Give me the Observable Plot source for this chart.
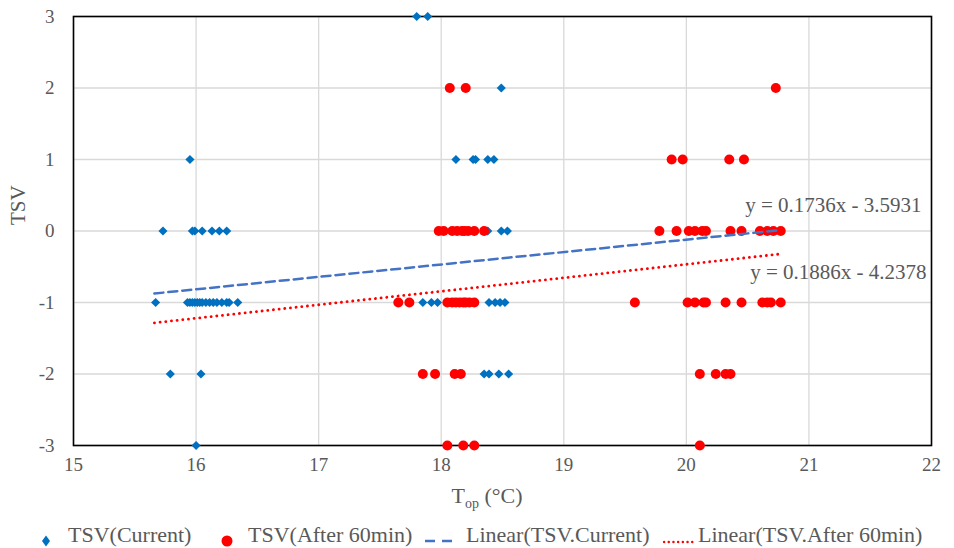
<!DOCTYPE html>
<html>
<head>
<meta charset="utf-8">
<script src="https://cdn.jsdelivr.net/npm/d3@7"></script>
<script src="https://cdn.jsdelivr.net/npm/@observablehq/plot@0.6"></script>
<style>
  html, body { margin: 0; padding: 0; background: #fff; }
  body { width: 954px; height: 548px; overflow: hidden; position: relative; font-family: "Liberation Serif", "Times New Roman", serif; color: #595959; }
  #xtitle { position: absolute; top: 483px; left: 0; width: 974px; text-align: center; font-size: 22px; }
  #xtitle sub { font-size: 14px; }
  #legend { position: absolute; top: 521px; left: 0; width: 954px; height: 28px; font-size: 22px; white-space: nowrap; }
  .sw { position: absolute; top: 7px; }
  .lab { position: absolute; top: 0; line-height: 28px; }
</style>
</head>
<body>
<div id="chart"></div>
<div id="xtitle">T<sub>op</sub> (°C)</div>
<div id="legend"></div>
<script>
// TSV (Current)
const currentX = [
  17.80, 17.89,
  18.49,
  15.95, 18.12, 18.26, 18.28, 18.38, 18.43,
  15.73, 15.97, 15.99, 16.05, 16.13, 16.19, 16.25, 18.38, 18.49, 18.54,
  15.67, 15.93, 15.95, 15.97, 15.99, 16.01, 16.03, 16.05, 16.08, 16.11, 16.14, 16.17, 16.21, 16.25, 16.27, 16.34, 17.85, 17.92, 17.97, 18.39, 18.44, 18.48, 18.52,
  15.79, 16.04, 18.35, 18.39, 18.47, 18.55,
  16.00
];
const currentY = [
  3, 3,
  2,
  1, 1, 1, 1, 1, 1,
  0, 0, 0, 0, 0, 0, 0, 0, 0, 0,
  -1, -1, -1, -1, -1, -1, -1, -1, -1, -1, -1, -1, -1, -1, -1, -1, -1, -1, -1, -1, -1, -1, -1,
  -2, -2, -2, -2, -2, -2,
  -3
];
// TSV (After 60min)
const afterX = [
  18.07, 18.20, 20.73,
  19.88, 19.97, 20.35, 20.47,
  17.98, 18.02, 18.09, 18.13, 18.17, 18.19, 18.22, 18.27, 18.35, 19.78, 19.92, 20.02, 20.07, 20.13, 20.16, 20.36, 20.45, 20.60, 20.66, 20.71, 20.77,
  17.65, 17.74, 18.05, 18.09, 18.12, 18.15, 18.18, 18.20, 18.23, 18.27, 19.58, 20.01, 20.07, 20.14, 20.16, 20.32, 20.45, 20.62, 20.66, 20.69, 20.77,
  17.85, 17.95, 18.11, 18.16, 20.11, 20.24, 20.32, 20.36,
  18.05, 18.18, 18.27, 20.11
];
const afterY = [
  2, 2, 2,
  1, 1, 1, 1,
  0, 0, 0, 0, 0, 0, 0, 0, 0, 0, 0, 0, 0, 0, 0, 0, 0, 0, 0, 0, 0,
  -1, -1, -1, -1, -1, -1, -1, -1, -1, -1, -1, -1, -1, -1, -1, -1, -1, -1, -1, -1, -1,
  -2, -2, -2, -2, -2, -2, -2, -2,
  -3, -3, -3, -3
];
// Linear trendlines (endpoints)
const trendCurrentX = [15.66, 20.75];
const trendCurrentY = [-0.8745, 0.0091];
const trendAfterX = [15.66, 20.78];
const trendAfterY = [-1.2843, -0.3187];
const eqCurrent = "y = 0.1736x - 3.5931";
const eqAfter = "y = 0.1886x - 4.2378";
const xTicks = [15, 16, 17, 18, 19, 20, 21, 22];
const yTicks = [-3, -2, -1, 0, 1, 2, 3];
const legendLabels = ["TSV(Current)", "TSV(After 60min)", "Linear(TSV.Current)", "Linear(TSV.After 60min)"];

const cur = currentX.map((x, i) => ({x, y: currentY[i]}));
const aft = afterX.map((x, i) => ({x, y: afterY[i]}));
const tCur = trendCurrentX.map((x, i) => ({x, y: trendCurrentY[i]}));
const tAft = trendAfterX.map((x, i) => ({x, y: trendAfterY[i]}));

const BLUE = "#0070C0", RED = "#FF0000", TBLUE = "#4472C4", GRID = "#D9D9D9", TXT = "#595959";
const fmt = d => String(d).replace("-", "-");

const plot = Plot.plot({
  width: 954,
  height: 475,
  marginLeft: 73,
  marginRight: 23,
  marginTop: 16,
  marginBottom: 30,
  style: {fontFamily: "'Liberation Serif', 'Times New Roman', serif", fontSize: "18px", color: TXT, background: "#fff"},
  x: {domain: [15, 22], ticks: xTicks},
  y: {domain: [-3, 3], ticks: yTicks},
  marks: [
    Plot.gridX(xTicks, {stroke: GRID, strokeOpacity: 1, strokeWidth: 1.3}),
    Plot.gridY(yTicks, {stroke: GRID, strokeOpacity: 1, strokeWidth: 1.3}),
    Plot.axisX(xTicks, {tickSize: 0, tickPadding: 12, label: null, fontSize: 19, fill: TXT, tickFormat: fmt, fontFamily: "Liberation Serif"}),
    Plot.axisY(yTicks, {tickSize: 0, tickPadding: 19, label: null, fontSize: 19, fill: TXT, tickFormat: fmt, fontFamily: "Liberation Serif"}),
    Plot.text(["TSV"], {frameAnchor: "left", dx: -55, dy: -6, rotate: -90, fontSize: 21, fill: TXT}),
    Plot.frame({stroke: "#000", strokeWidth: 1.6}),
    Plot.dot(cur, {x: "x", y: "y", symbol: "diamond2", r: 4.1, fill: BLUE, stroke: "none"}),
    Plot.dot(aft, {x: "x", y: "y", symbol: "circle", r: 5, fill: RED, stroke: "none"}),
    Plot.line(tCur, {x: "x", y: "y", stroke: TBLUE, strokeWidth: 2.5, strokeDasharray: "9,5"}),
    Plot.line(tAft, {x: "x", y: "y", stroke: RED, strokeWidth: 2.8, strokeDasharray: "0.1,5.6", strokeLinecap: "round"}),
    Plot.text([eqCurrent], {x: 21.20, y: 0.36, fontSize: 21, fill: TXT, textAnchor: "middle"}),
    Plot.text([eqAfter], {x: 21.24, y: -0.58, fontSize: 21, fill: TXT, textAnchor: "middle"})
  ]
});
document.getElementById("chart").appendChild(plot);

// Legend
const swatches = [
  {left: 40, svg: `<svg width="12" height="14"><path d="M6,1.5 L10,7 L6,12.5 L2,7 Z" fill="${BLUE}"/></svg>`},
  {left: 220, svg: `<svg width="14" height="14"><circle cx="7" cy="7" r="5.5" fill="${RED}"/></svg>`},
  {left: 425, svg: `<svg width="32" height="14"><line x1="0" x2="32" y1="7" y2="7" stroke="${TBLUE}" stroke-width="2.5" stroke-dasharray="10,7"/></svg>`},
  {left: 663, svg: `<svg width="34" height="14"><line x1="1" x2="33" y1="8" y2="8" stroke="${RED}" stroke-width="2.4" stroke-dasharray="0.1,4.6" stroke-linecap="round"/></svg>`}
];
const textLefts = [68, 248, 466, 698];
const lg = document.getElementById("legend");
legendLabels.forEach((label, i) => {
  const s = document.createElement("div");
  s.className = "sw";
  s.style.left = swatches[i].left + "px";
  s.innerHTML = swatches[i].svg;
  lg.appendChild(s);
  const t = document.createElement("div");
  t.className = "lab";
  t.style.left = textLefts[i] + "px";
  t.textContent = label;
  lg.appendChild(t);
});
</script>
</body>
</html>
